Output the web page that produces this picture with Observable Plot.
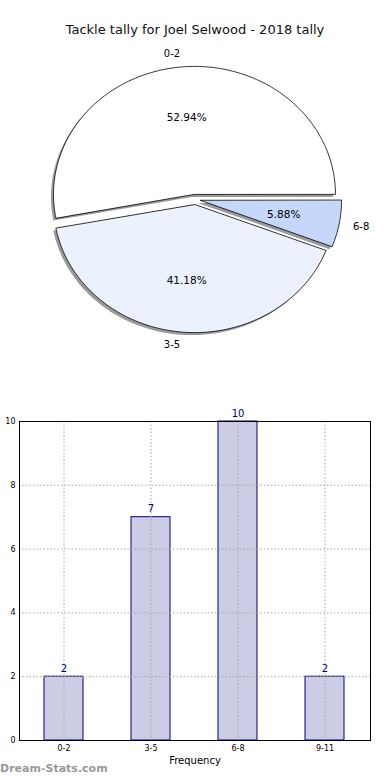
<!DOCTYPE html>
<html><head><meta charset="utf-8">
<script src="https://cdn.jsdelivr.net/npm/d3@7"></script>
<script src="https://cdn.jsdelivr.net/npm/@observablehq/plot@0.6"></script>
<style>
body{margin:0;background:#fff;font-family:"DejaVu Sans",sans-serif;}
#wrap{position:relative;width:390px;height:780px;overflow:hidden;background:#fff;}
#title{position:absolute;top:22px;left:0;width:390px;text-align:center;font-size:13px;line-height:16px;color:#111;}
#pie{position:absolute;top:0;left:0;}
#bar{position:absolute;top:400px;left:0;}
#wm{position:absolute;left:0;top:762px;font-size:11px;line-height:14px;font-weight:bold;color:#999;}
</style></head>
<body><div id="wrap"><div id="pie"></div><div id="bar"></div><div id="title"></div><div id="wm"></div></div>
<script>
const chartTitle = "Tackle tally for Joel Selwood - 2018 tally";
const watermark = "Dream-Stats.com";
const pieCategories = ["0-2", "3-5", "6-8"];
const pieValues = [9, 7, 1];
const pieColors = ["#ffffff", "#ebf1fd", "#c5d8fc"];
const pieExplode = [0.04, 0.04, 0.04];
const barCategories = ["0-2", "3-5", "6-8", "9-11"];
const barValues = [2, 7, 10, 2];
const yTicks = [0, 2, 4, 6, 8, 10];
const xLabel = "Frequency";
const yLabel = "Number of Games";

document.getElementById("title").textContent = chartTitle;
document.getElementById("wm").textContent = watermark;

const font = {fontFamily: "DejaVu Sans", fontSize: "10px", background: "transparent", overflow: "visible"};

// ---- Pie geometry (unit circle, counter-clockwise from east, like matplotlib) ----
const total = d3.sum(pieValues);
let acc = 0;
const slices = pieCategories.map((c, i) => {
  const a0 = acc / total * 2 * Math.PI;
  acc += pieValues[i];
  const a1 = acc / total * 2 * Math.PI;
  const mid = (a0 + a1) / 2;
  const ox = pieExplode[i] * Math.cos(mid), oy = pieExplode[i] * Math.sin(mid);
  const pts = [{key: c, u: ox, v: oy}];
  const n = Math.max(2, Math.ceil((a1 - a0) / (Math.PI / 180)));
  for (let k = 0; k <= n; k++) {
    const a = a0 + (a1 - a0) * k / n;
    pts.push({key: c, u: ox + Math.cos(a), v: oy + Math.sin(a)});
  }
  return {
    key: c, color: pieColors[i], pts,
    pct: (pieValues[i] / total * 100).toFixed(2) + "%",
    pu: ox + 0.6 * Math.cos(mid), pv: oy + 0.6 * Math.sin(mid),
    lu: ox + 1.1 * Math.cos(mid), lv: oy + 1.1 * Math.sin(mid)
  };
});

const pieMarks = [];
slices.forEach(s => pieMarks.push(Plot.line(s.pts, {x: "u", y: "v", curve: "linear-closed", fill: "#9a9a9a", stroke: "none", dx: -2.5, dy: 2.5})));
slices.forEach(s => pieMarks.push(Plot.line(s.pts, {x: "u", y: "v", curve: "linear-closed", fill: s.color, stroke: "#000", strokeWidth: 0.8})));
pieMarks.push(Plot.text(slices, {x: "pu", y: "pv", text: "pct", fill: "#000", fontSize: 10.5, lineAnchor: "middle"}));
pieMarks.push(Plot.text(slices.filter(s => s.lu < 0), {x: "lu", y: "lv", text: "key", fill: "#000", fontSize: 10, textAnchor: "end", lineAnchor: "middle"}));
pieMarks.push(Plot.text(slices.filter(s => s.lu >= 0), {x: "lu", y: "lv", text: "key", fill: "#000", fontSize: 10, textAnchor: "start", lineAnchor: "middle"}));

const cx = 194.5, cy = 199, rx = 141, ry = 128;
const pie = Plot.plot({
  width: 390, height: 390,
  margin: 0,
  style: font,
  x: {domain: [-cx / rx, (390 - cx) / rx], axis: null},
  y: {domain: [(cy - 390) / ry, cy / ry], axis: null},
  marks: pieMarks
});
document.getElementById("pie").append(pie);

// ---- Bar chart ----
const barData = barCategories.map((c, i) => ({cat: c, value: barValues[i]}));
const bar = Plot.plot({
  width: 390, height: 380,
  marginTop: 21, marginBottom: 40, marginLeft: 19, marginRight: 20,
  style: font,
  x: {type: "band", domain: barCategories, paddingInner: 0.55, paddingOuter: 0.275, align: 0.5, axis: null},
  y: {domain: [0, 10], axis: null},
  marks: [
    Plot.barY(barData, {x: "cat", y: "value", fill: "#ccccE5", stroke: "#000080", strokeWidth: 1}),
    Plot.gridY(yTicks, {stroke: "#a8a8a8", strokeOpacity: 1, strokeDasharray: "1.5,2"}),
    Plot.gridX(barCategories, {stroke: "#a8a8a8", strokeOpacity: 1, strokeDasharray: "1.5,2"}),
    Plot.text(barData, {x: "cat", y: "value", text: d => String(d.value), dy: -8, fill: "#00008b", fontSize: 10}),
    Plot.frame({stroke: "#000", strokeWidth: 1}),
    Plot.axisY(yTicks, {tickSize: 0, tickPadding: 4, fontSize: 8, label: null, fill: "#000"}),
    Plot.axisX(barCategories, {tickSize: 0, tickPadding: 5, fontSize: 8, label: null, fill: "#000"}),
    Plot.text([xLabel], {frameAnchor: "bottom", dy: 20, fontSize: 10, lineAnchor: "middle", fill: "#000"}),
    Plot.text([yLabel], {frameAnchor: "left", dx: -24, rotate: -90, fontSize: 10, lineAnchor: "middle", fill: "#000"})
  ]
});
document.getElementById("bar").append(bar);
</script>
</body></html>
